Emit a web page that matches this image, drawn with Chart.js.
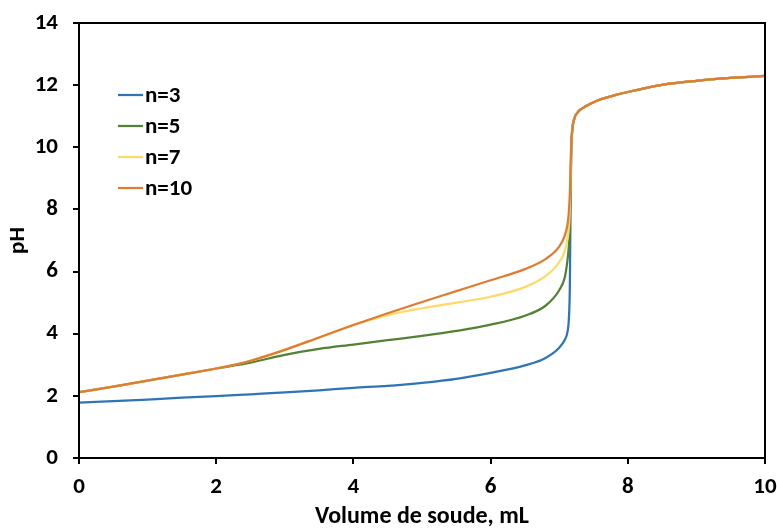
<!DOCTYPE html>
<html lang="fr">
<head>
  <meta charset="UTF-8" />
  <script src="https://cdn.jsdelivr.net/npm/chart.js"></script>
  <title>Courbes de titrage pH</title>
  <style>
    body { margin: 0; background: #fff; }
    #cadre { width: 777px; height: 531px; }
  </style>
</head>
<body>
  <div id="cadre">
    <canvas id="grafico" width="777" height="531"></canvas>
  </div>
  <script>
    // Volume de soude versé (mL), grille commune aux quatre courbes
    const volume = [0, 0.5, 1, 1.5, 2, 2.5, 3, 3.5, 4, 4.5, 5, 5.5, 6, 6.5, 6.8, 7.0, 7.08, 7.12, 7.14, 7.155, 7.165, 7.175,
                    7.19, 7.22, 7.28, 7.38, 7.55, 7.8, 8, 8.5, 9, 9.5, 10];
    const pH_n3  = [1.78, 1.83, 1.88, 1.94, 1.99, 2.05, 2.11, 2.18, 2.26, 2.32, 2.42, 2.55, 2.74, 2.98, 3.22, 3.55, 3.8, 4.05, 4.45, 5.5, 8.0, 9.8,
                    10.55, 10.92, 11.15, 11.31, 11.5, 11.67, 11.78, 12.01, 12.14, 12.23, 12.3];
    const pH_n5  = [2.12, 2.3, 2.49, 2.68, 2.88, 3.07, 3.32, 3.51, 3.65, 3.79, 3.93, 4.09, 4.29, 4.58, 4.9, 5.4, 5.8, 6.35, 6.8, 7.4, 8.6, 9.9,
                    10.55, 10.92, 11.15, 11.31, 11.5, 11.67, 11.78, 12.01, 12.14, 12.23, 12.3];
    const pH_n7  = [2.12, 2.3, 2.49, 2.68, 2.88, 3.13, 3.48, 3.88, 4.28, 4.6, 4.82, 5.0, 5.19, 5.5, 5.85, 6.3, 6.65, 7.05, 7.4, 8.0, 9.0, 10.0,
                    10.55, 10.92, 11.15, 11.31, 11.5, 11.67, 11.78, 12.01, 12.14, 12.23, 12.3];
    const pH_n10 = [2.12, 2.3, 2.49, 2.68, 2.88, 3.13, 3.48, 3.88, 4.28, 4.66, 5.02, 5.37, 5.72, 6.08, 6.4, 6.8, 7.15, 7.5, 7.9, 8.5, 9.3, 10.1,
                    10.55, 10.92, 11.15, 11.31, 11.5, 11.67, 11.78, 12.01, 12.14, 12.23, 12.3];
    const etiquettes = ['n=3', 'n=5', 'n=7', 'n=10'];
    const couleurs = ['#2E75B6', '#548235', '#FFD966', '#E07B30'];
    const series = [pH_n3, pH_n5, pH_n7, pH_n10];

    const police = 'Calibri, Carlito, "Liberation Sans", Arial, sans-serif';

    // Cadre complet + légende dans la zone de tracé
    const cadreEtLegende = {
      id: 'cadreEtLegende',
      afterDatasetsDraw(chart) {
        const { ctx, chartArea: a } = chart;
        ctx.save();
        ctx.strokeStyle = '#000';
        ctx.lineWidth = 2;
        ctx.strokeRect(a.left, a.top, a.right - a.left, a.bottom - a.top);
        ctx.font = 'bold 23px ' + police;
        ctx.textBaseline = 'middle';
        chart.data.datasets.forEach((ds, i) => {
          const y = a.top + 72 + i * 31;
          ctx.strokeStyle = ds.borderColor;
          ctx.lineWidth = 2.25;
          ctx.beginPath();
          ctx.moveTo(a.left + 39, y);
          ctx.lineTo(a.left + 64, y);
          ctx.stroke();
          ctx.fillStyle = '#000';
          ctx.fillText(ds.label, a.left + 66, y + 1);
        });
        ctx.restore();
      }
    };

    const ctx = document.getElementById('grafico').getContext('2d');
    new Chart(ctx, {
      type: 'scatter',
      data: {
        datasets: series.map((s, i) => ({
          label: etiquettes[i],
          data: volume.map((v, j) => ({ x: v, y: s[j] })),
          showLine: true,
          order: series.length - i, // n=10 dessiné en dernier, par-dessus
          borderColor: couleurs[i],
          backgroundColor: couleurs[i],
          borderWidth: 2.25,
          pointRadius: 0,
          cubicInterpolationMode: 'monotone'
        }))
      },
      options: {
        responsive: false,
        animation: false,
        layout: { padding: { top: 23, right: 12, left: 0, bottom: 0 } },
        plugins: {
          legend: { display: false },
          tooltip: { enabled: false }
        },
        scales: {
          x: {
            type: 'linear',
            min: 0,
            max: 10,
            ticks: { stepSize: 2, color: '#000', padding: 9, font: { family: police, size: 23, weight: 'bold' } },
            grid: { drawOnChartArea: false, drawTicks: true, tickLength: 6, color: '#000', lineWidth: 2 },
            border: { display: true, color: '#000', width: 2 },
            title: { display: true, text: 'Volume de soude, mL', color: '#000', padding: { top: 4, bottom: 0 },
                     font: { family: police, size: 24, weight: 'bold' } },
            afterFit: s => { s.height = 73; s.paddingLeft = 0; s.paddingRight = 0; }
          },
          y: {
            min: 0,
            max: 14,
            ticks: { stepSize: 2, color: '#000', padding: 15, font: { family: police, size: 23, weight: 'bold' } },
            grid: { drawOnChartArea: false, drawTicks: true, tickLength: 6, color: '#000', lineWidth: 2 },
            border: { display: true, color: '#000', width: 2 },
            title: { display: true, text: 'pH', color: '#000', padding: { top: 4, bottom: 4 },
                     font: { family: police, size: 23, weight: 'bold' } },
            afterFit: s => { s.width = 79; s.paddingTop = 0; s.paddingBottom = 0; }
          }
        }
      },
      plugins: [cadreEtLegende]
    });
  </script>
</body>
</html>
